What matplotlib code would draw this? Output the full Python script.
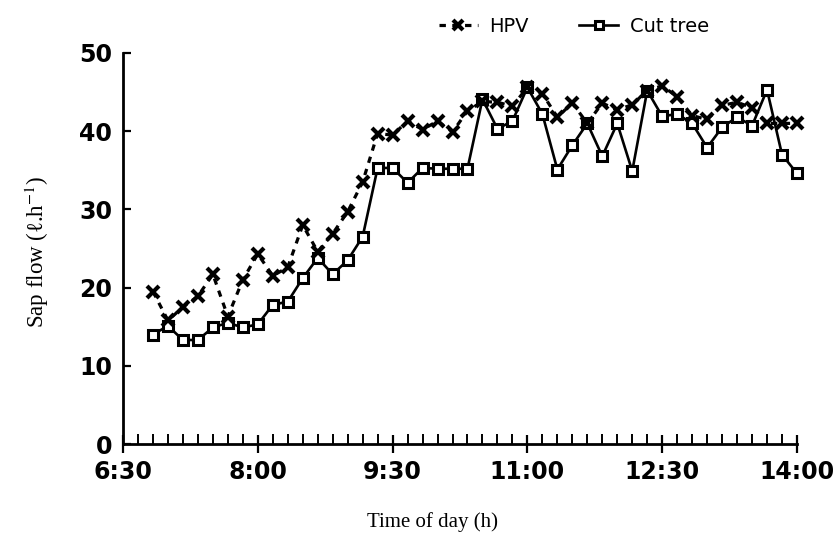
import numpy as np
import matplotlib
matplotlib.use("Agg")
import matplotlib.pyplot as plt
from matplotlib.ticker import MultipleLocator, FixedLocator

# Sampling every 10 minutes, 6:50 to 14:00 (hours)
time_h = np.arange(6 * 60 + 50, 14 * 60 + 1, 10) / 60.0

hpv = [19.5, 15.8, 17.5, 18.9, 21.7, 16.3, 21.0, 24.3, 21.5, 22.6,
       28.0, 24.6, 26.9, 29.7, 33.5, 39.7, 39.5, 41.3, 40.2, 41.3,
       39.9, 42.6, 43.8, 43.7, 43.2, 45.6, 44.8, 41.8, 43.6, 41.0,
       43.6, 42.7, 43.4, 45.2, 45.8, 44.4, 42.0, 41.5, 43.3, 43.7,
       43.0, 41.0, 41.0, 41.0]

cut_tree = [14.0, 15.1, 13.3, 13.3, 14.9, 15.5, 14.9, 15.3, 17.8, 18.2,
            21.2, 23.8, 21.7, 23.5, 26.5, 35.3, 35.3, 33.4, 35.3, 35.2,
            35.2, 35.2, 44.1, 40.3, 41.3, 45.6, 42.2, 35.1, 38.2, 41.0,
            36.8, 41.0, 34.9, 45.2, 41.9, 42.2, 41.0, 37.9, 40.5, 41.8,
            40.7, 45.3, 37.0, 34.6]

tick_hours = [6.5, 8.0, 9.5, 11.0, 12.5, 14.0]
tick_labels = ["6:30", "8:00", "9:30", "11:00", "12:30", "14:00"]
y_ticks = [0, 10, 20, 30, 40, 50]

W, H = 838, 541
fig = plt.figure(figsize=(W / 100, H / 100), dpi=100)
ax = fig.add_axes([123 / W, (H - 444) / H, (797 - 123) / W, (444 - 53) / H])

ax.plot(time_h, cut_tree, color="black", lw=1.9, ls="-",
        marker="s", ms=7.5, mfc="white", mec="black", mew=2.2,
        clip_on=False, zorder=3, label="Cut tree")
ax.plot(time_h, hpv, color="black", lw=2.3, ls=(0, (2.0, 2.0)),
        marker="x", ms=9, mew=3.0,
        clip_on=False, zorder=4, label="HPV")

ax.set_xlim(6.5, 14.0)
ax.set_ylim(0, 50)

for side in ("top", "right"):
    ax.spines[side].set_visible(False)
for side in ("left", "bottom"):
    ax.spines[side].set_linewidth(2.0)

tick_font = dict(family="DejaVu Sans", weight="bold", size=17)
ax.xaxis.set_major_locator(FixedLocator(tick_hours))
ax.set_xticks(tick_hours)
ax.set_xticklabels(tick_labels, fontdict=tick_font)
ax.xaxis.set_minor_locator(MultipleLocator(10 / 60))
ax.tick_params(axis="x", which="major", direction="inout", length=13,
               width=1.6, pad=5)
ax.tick_params(axis="x", which="minor", direction="in", length=7, width=1.4)

ax.set_yticks(y_ticks)
ax.set_yticklabels([str(v) for v in y_ticks], fontdict=tick_font)
ax.tick_params(axis="y", which="major", direction="in", length=6,
               width=1.6, pad=8)

plt.rcParams["mathtext.fontset"] = "stix"
serif = ["Liberation Serif", "DejaVu Serif"]
fig.text(37 / W, 1 - 252 / H, "Sap flow (ℓ.h$^{-1}$)", rotation=90,
         ha="center", va="center", family=serif, fontsize=16.5)
fig.text(432 / W, 1 - 522 / H, "Time of day (h)",
         ha="center", va="center", family=serif, fontsize=15)

handles, labels = ax.get_legend_handles_labels()
leg = fig.legend(handles[::-1], labels[::-1], loc="center",
                 bbox_to_anchor=(574 / W, 1 - 26 / H), ncol=2,
                 frameon=False, handlelength=2.0, handletextpad=0.6,
                 columnspacing=2.6, markerscale=0.85,
                 prop=dict(family="DejaVu Sans", size=14))

fig.savefig("out.png", dpi=100)
